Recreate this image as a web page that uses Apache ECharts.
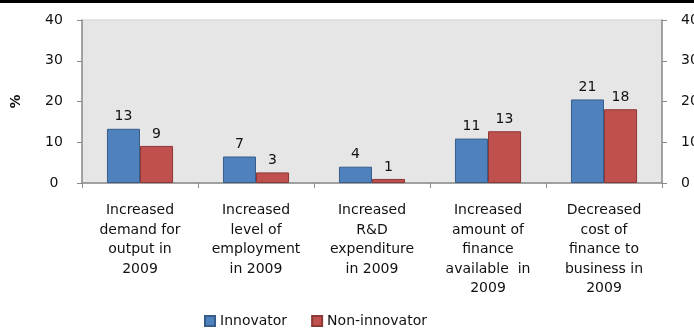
<!DOCTYPE html>
<html><head><meta charset="utf-8">
<script src="https://cdn.jsdelivr.net/npm/echarts@6/dist/echarts.min.js"></script>
<style>html,body{margin:0;padding:0;background:#fff}#c{width:694px;height:336px}</style>
</head><body><div id="c"></div>
<script>
const categories = [
  "Increased\ndemand for\noutput in\n2009",
  "Increased\nlevel of\nemployment\nin 2009",
  "Increased\nR&D\nexpenditure\nin 2009",
  "Increased\namount of\nfinance\navailable  in\n2009",
  "Decreased\ncost of\nfinance to\nbusiness in\n2009"
];
const innovator = [13.3, 6.5, 4.0, 10.9, 20.5];
const nonInnovator = [9.1, 2.6, 1.0, 12.7, 18.1];
const yTicks = [0, 10, 20, 30, 40];

const F = "DejaVu Sans";
const chart = echarts.init(document.getElementById('c'));
const axisLine = {show: true, lineStyle: {color: '#8c8c8c', width: 1.5}};
const yAxisBase = {
  type: 'value', min: yTicks[0], max: yTicks[yTicks.length-1], interval: 10,
  axisLine: axisLine,
  axisTick: {show: true, length: 5, lineStyle: {color: '#8c8c8c'}},
  splitLine: {show: false}
};
const lbl = {show: true, position: 'top', distance: 5, color: '#111', fontFamily: F, fontSize: 14,
  formatter: p => Math.round(p.value)};
chart.setOption({
  animation: false,
  grid: {left: 82, right: 32, top: 20, bottom: 153, outerBoundsMode: 'none', containLabel: false,
    show: true, backgroundColor: '#e6e6e6', borderColor: '#d0d0d0', borderWidth: 1},
  legend: {left: 199, top: 309, itemWidth: 10, itemHeight: 10, itemGap: 24, icon: 'rect',
    textStyle: {fontFamily: F, fontSize: 14, color: '#111'},
    data: ['Innovator', 'Non-innovator']},
  xAxis: {type: 'category', data: categories,
    axisLine: axisLine,
    axisTick: {show: true, length: 5, interval: 0, lineStyle: {color: '#8c8c8c'}},
    axisLabel: {interval: 0, color: '#111', fontFamily: F, fontSize: 14, lineHeight: 19.5, margin: 18}},
  yAxis: [
    Object.assign({}, yAxisBase, {position: 'left', name: '%', nameLocation: 'middle', nameRotate: 90, nameGap: 59,
      axisLabel: {color: '#111', fontFamily: F, fontSize: 14, margin: 28, align: 'center'},
      nameTextStyle: {fontFamily: F, fontSize: 14, fontWeight: 'bold', color: '#111'}}),
    Object.assign({}, yAxisBase, {position: 'right',
      axisLabel: {color: '#111', fontFamily: F, fontSize: 14, margin: 19, align: 'left'}})
  ],
  series: [
    {name: 'Innovator', type: 'bar', data: innovator, barGap: '0%', barCategoryGap: '43%',
      itemStyle: {color: '#4f81bd', borderColor: '#385d8a', borderWidth: 1}, label: lbl},
    {name: 'Non-innovator', type: 'bar', data: nonInnovator,
      itemStyle: {color: '#c0504d', borderColor: '#8c3836', borderWidth: 1}, label: lbl}
  ],
  graphic: [{type: 'rect', left: 0, top: 0, shape: {width: 694, height: 3}, style: {fill: '#000'}}]
});
</script></body></html>
